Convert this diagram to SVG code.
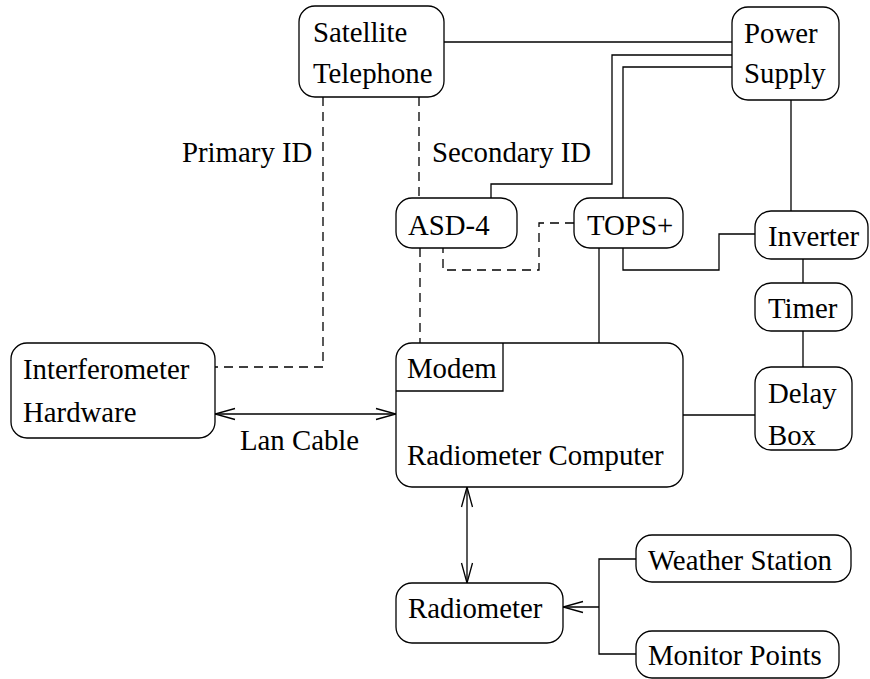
<svg xmlns="http://www.w3.org/2000/svg" width="870" height="679" viewBox="0 0 870 679">
  <style>
    .box { fill: #fff; stroke: #000; stroke-width: 1.3; }
    .ln { fill: none; stroke: #000; stroke-width: 1.3; }
    .dash { fill: none; stroke: #000; stroke-width: 1.3; stroke-dasharray: 9 6; }
    .head { fill: none; stroke: #000; stroke-width: 1.3; }
    text { font-family: "Liberation Serif", "Times New Roman", serif; font-size: 28.8px; fill: #000; }
  </style>
  <rect width="870" height="679" fill="#fff"/>

  <g id="connectors">
    <!-- power feeds -->
    <path class="ln" d="M444 42 H732"/>
    <path class="ln" d="M732 55 H612 V184 H491 V198"/>
    <path class="ln" d="M732 67 H623 V198"/>
    <path class="ln" d="M791 100 V211"/>
    <path class="ln" d="M623 248 V270 H719 V234 H755"/>
    <path class="ln" d="M599 248 V343"/>
    <path class="ln" d="M803 259 V283"/>
    <path class="ln" d="M803 331 V367"/>
    <path class="ln" d="M683 415 H755"/>
    <!-- ID lines -->
    <path class="dash" d="M323 97 V367 H215"/>
    <path class="dash" d="M419 97 V198"/>
    <path class="dash" d="M420 248 V343"/>
    <path class="dash" d="M574 223 H539 V270 H443 V248"/>
    <!-- lan cable -->
    <path class="ln" d="M215 414 H396"/>
    <path class="head" d="M235 408.5 L215 414 L235 419.5"/>
    <path class="head" d="M376 408.5 L396 414 L376 419.5"/>
    <!-- computer to radiometer -->
    <path class="ln" d="M467 487 V583"/>
    <path class="head" d="M461.5 507 L467 487 L472.5 507"/>
    <path class="head" d="M461.5 563 L467 583 L472.5 563"/>
    <!-- sensors to radiometer -->
    <path class="ln" d="M636 559 H599 V654 H636"/>
    <path class="ln" d="M599 607 H563"/>
    <path class="head" d="M583 601.5 L563 607 L583 612.5"/>
  </g>

  <g id="satellite-telephone">
    <rect class="box" x="299" y="6" width="145" height="91" rx="16"/>
    <text x="313" y="42">Satellite</text>
    <text x="313" y="83">Telephone</text>
  </g>

  <g id="power-supply">
    <rect class="box" x="732" y="7" width="107" height="93" rx="16"/>
    <text x="744" y="43">Power</text>
    <text x="744" y="83">Supply</text>
  </g>

  <g id="asd-4">
    <rect class="box" x="396" y="198" width="121" height="50" rx="16"/>
    <text x="408" y="235">ASD-4</text>
  </g>

  <g id="tops">
    <rect class="box" x="574" y="198" width="109" height="50" rx="16"/>
    <text x="587" y="235">TOPS+</text>
  </g>

  <g id="inverter">
    <rect class="box" x="755" y="211" width="113" height="48" rx="16"/>
    <text x="768" y="246">Inverter</text>
  </g>

  <g id="timer">
    <rect class="box" x="755" y="283" width="97" height="48" rx="16"/>
    <text x="768" y="318">Timer</text>
  </g>

  <g id="delay-box">
    <rect class="box" x="755" y="367" width="97" height="83" rx="16"/>
    <text x="768" y="403">Delay</text>
    <text x="768" y="445">Box</text>
  </g>

  <g id="interferometer-hardware">
    <rect class="box" x="11" y="343" width="204" height="95" rx="16"/>
    <text x="23" y="379">Interferometer</text>
    <text x="23" y="422">Hardware</text>
  </g>

  <g id="radiometer-computer">
    <rect class="box" x="396" y="343" width="287" height="144" rx="16"/>
    <path class="ln" d="M396 391 H503 V343"/>
    <text x="407" y="378">Modem</text>
    <text x="407" y="465">Radiometer Computer</text>
  </g>

  <g id="radiometer">
    <rect class="box" x="396" y="583" width="167" height="60" rx="16"/>
    <text x="408" y="618">Radiometer</text>
  </g>

  <g id="weather-station">
    <rect class="box" x="636" y="535" width="215" height="47" rx="16"/>
    <text x="648" y="570">Weather Station</text>
  </g>

  <g id="monitor-points">
    <rect class="box" x="636" y="631" width="203" height="47" rx="16"/>
    <text x="648" y="665">Monitor Points</text>
  </g>

  <g id="labels">
    <text x="182" y="162">Primary ID</text>
    <text x="432" y="162">Secondary ID</text>
    <text x="240" y="450">Lan Cable</text>
  </g>
</svg>
